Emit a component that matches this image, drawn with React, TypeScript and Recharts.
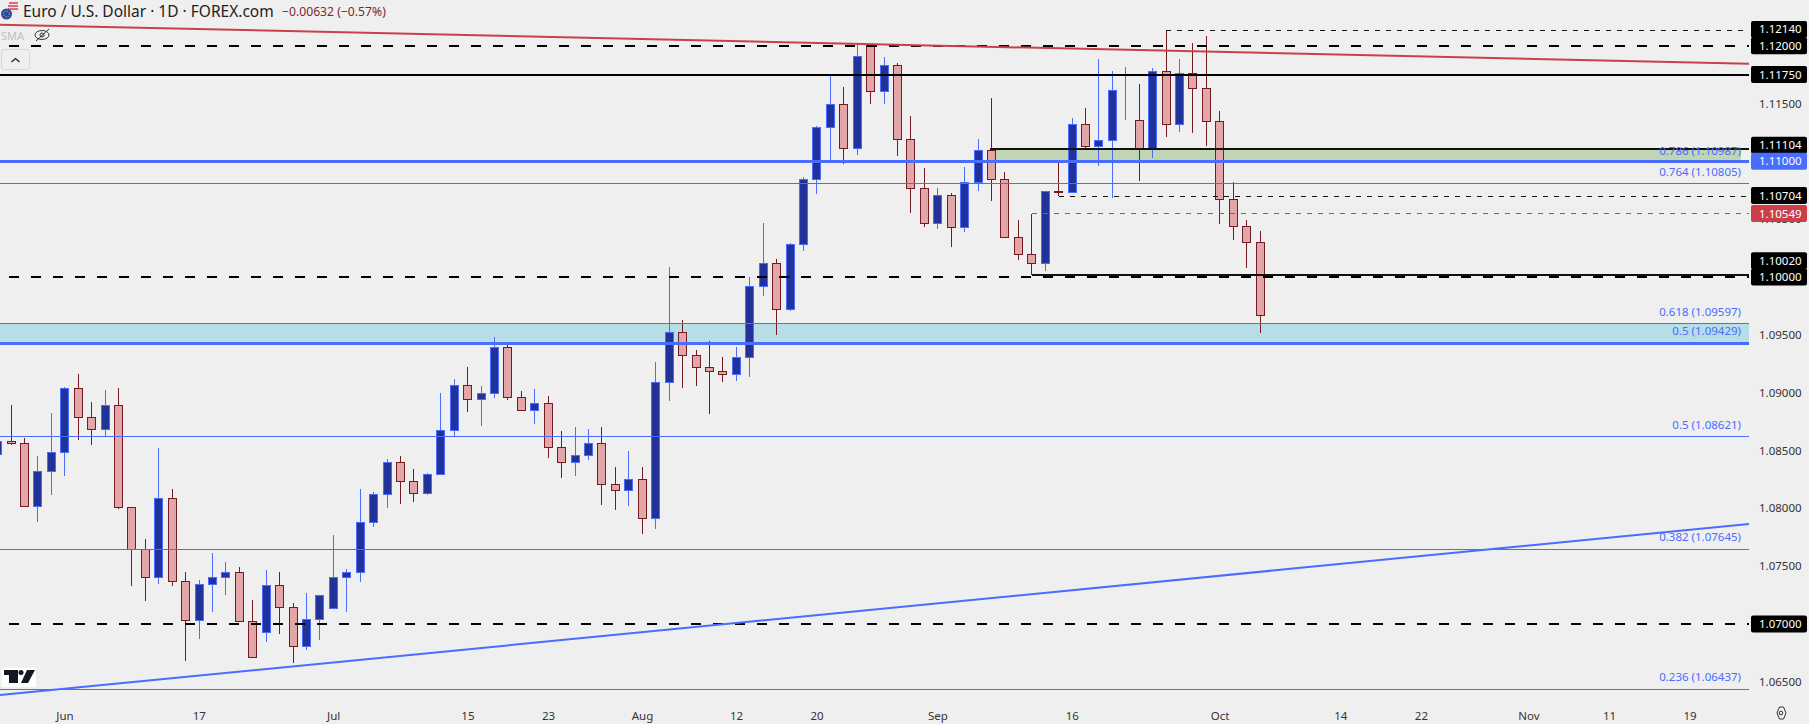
import React from "react";
import { ComposedChart, Bar, XAxis, YAxis, ReferenceLine, ReferenceArea } from "recharts";

// one entry per daily bar, oldest first (first bar is cut by the left edge)
const opens = [1.08467,1.08579,1.08562,1.08017,1.08320,1.08484,1.09038,1.08787,1.08683,1.08891,1.08009,1.07646,1.07404,1.08087,1.07369,1.07032,1.07343,1.07404,1.07447,1.07023,1.06928,1.07334,1.07144,1.06807,1.07040,1.07136,1.07404,1.07447,1.07879,1.08121,1.08398,1.08234,1.08130,1.08294,1.08675,1.09063,1.08942,1.08994,1.09392,1.08960,1.08847,1.08908,1.08527,1.08398,1.08458,1.08562,1.08207,1.08156,1.08251,1.07914,1.09089,1.09522,1.09323,1.09219,1.09185,1.09159,1.09306,1.09919,1.10118,1.09720,1.10282,1.10844,1.11294,1.11493,1.11112,1.12003,1.11605,1.11830,1.11190,1.10767,1.10464,1.10706,1.10429,1.10819,1.11095,1.10844,1.10343,1.10196,1.10118,1.10741,1.10732,1.11320,1.11130,1.11182,1.11623,1.11355,1.11104,1.11784,1.11320,1.11761,1.11631,1.11346,1.10672,1.10438,1.10300];
const highs = [1.08700,1.08894,1.08608,1.08450,1.08821,1.09046,1.09162,1.08920,1.09020,1.09038,1.08009,1.07732,1.08519,1.08164,1.07447,1.07378,1.07611,1.07533,1.07490,1.07205,1.07464,1.07447,1.07179,1.07265,1.07248,1.07767,1.07473,1.08164,1.08138,1.08424,1.08450,1.08337,1.08303,1.08994,1.09115,1.09219,1.09055,1.09478,1.09409,1.09012,1.09029,1.08968,1.08666,1.08700,1.08683,1.08700,1.08355,1.08493,1.08355,1.09262,1.10084,1.09625,1.09366,1.09444,1.09306,1.09392,1.09997,1.10464,1.10153,1.10291,1.10862,1.11303,1.11738,1.11640,1.12006,1.12015,1.11899,1.11847,1.11389,1.10940,1.10767,1.10723,1.10948,1.11190,1.11545,1.10905,1.10490,1.10542,1.10741,1.11009,1.11372,1.11458,1.11882,1.11778,1.11813,1.11666,1.11804,1.12133,1.11882,1.12020,1.12081,1.11432,1.10819,1.10490,1.10395];
const lows = [1.08400,1.08551,1.08009,1.07885,1.08115,1.08280,1.08594,1.08551,1.08623,1.07997,1.07329,1.07202,1.07349,1.07329,1.06683,1.06873,1.07104,1.07251,1.07020,1.06712,1.06847,1.06916,1.06666,1.06778,1.06865,1.07136,1.07104,1.07366,1.07842,1.08006,1.08040,1.08058,1.08118,1.08285,1.08623,1.08836,1.08715,1.08957,1.08940,1.08844,1.08732,1.08438,1.08265,1.08282,1.08421,1.08032,1.07989,1.08023,1.07781,1.07824,1.08931,1.09043,1.09061,1.08819,1.09095,1.09104,1.09138,1.09836,1.09499,1.09709,1.10228,1.10721,1.10991,1.10980,1.11058,1.11499,1.11499,1.11049,1.10556,1.10435,1.10418,1.10262,1.10392,1.10746,1.10660,1.10343,1.10150,1.10014,1.10055,1.10697,1.10732,1.11104,1.10963,1.10686,1.11360,1.10833,1.11032,1.11213,1.11257,1.11248,1.11136,1.10461,1.10323,1.10081,1.09519];
const closes = [1.08579,1.08562,1.08017,1.08320,1.08484,1.09038,1.08787,1.08683,1.08891,1.08009,1.07646,1.07404,1.08087,1.07369,1.07032,1.07343,1.07404,1.07447,1.07023,1.06712,1.07334,1.07144,1.06807,1.07040,1.07248,1.07404,1.07447,1.07879,1.08121,1.08398,1.08234,1.08130,1.08294,1.08675,1.09064,1.08942,1.08994,1.09392,1.08960,1.08847,1.08908,1.08527,1.08398,1.08458,1.08562,1.08207,1.08156,1.08251,1.07914,1.09089,1.09522,1.09323,1.09219,1.09185,1.09159,1.09306,1.09919,1.10118,1.09720,1.10282,1.10844,1.11294,1.11493,1.11112,1.11908,1.11605,1.11830,1.11190,1.10767,1.10464,1.10706,1.10429,1.10819,1.11095,1.10844,1.10343,1.10196,1.10118,1.10741,1.10738,1.11320,1.11130,1.11182,1.11614,1.11626,1.11104,1.11784,1.11320,1.11761,1.11631,1.11346,1.10672,1.10438,1.10300,1.09669];

// date axis: position in the bar list (future bars included) and its label
const dateTicks = [5,15,25,35,41,48,55,61,70,80,91,100,106,114,120,126];
const dateLabels = ["Jun","17","Jul","15","23","Aug","12","20","Sep","16","Oct","14","22","Nov","11","19"];

// price scale
const plainPrices = [1.115,1.105,1.095,1.09,1.085,1.08,1.075,1.065];
const blackPrices = [1.1214,1.12,1.1175,1.11104,1.10704,1.1002,1.1,1.07];
const bluePrices = [1.11];
const redPrices = [1.10549];

// drawn levels
const dashedLevels = [1.12,1.1,1.07];
const thinBlueLevels = [1.10805,1.09597,1.08621,1.07645,1.06437];
const thickBlueLevels = [1.11,1.09429];
const fibLabels = ["0.786 (1.10987)","0.764 (1.10805)","0.618 (1.09597)","0.5 (1.09429)","0.5 (1.08621)","0.382 (1.07645)","0.236 (1.06437)"];
const fibPrices = [1.10987,1.10805,1.09597,1.09429,1.08621,1.07645,1.06437];

const bars = opens.map((open, i) => ({ i, open, high: highs[i], low: lows[i], close: closes[i] }));

const X_DOMAIN = [0.159, 130.39];
const Y_DOMAIN = [1.06395, 1.12395];
const BLUE = "#4a6cff";
const FONT = "'Noto Sans', sans-serif";

function Candle(props: any) {
  const { x, y, width, height, payload } = props;
  const up = payload.close >= payload.open;
  const unit = height / (payload.high - payload.low);
  const cx = Math.floor(x + width / 2) + 0.5;
  const top = Math.round(y + (payload.high - Math.max(payload.open, payload.close)) * unit) + 0.5;
  const bot = Math.round(y + (payload.high - Math.min(payload.open, payload.close)) * unit) + 0.5;
  const edge = up ? BLUE : "#741a20";
  return (
    <g shapeRendering="crispEdges">
      <line x1={cx} x2={cx} y1={y} y2={y + height} stroke={edge} />
      <rect x={cx - 4} y={top} width={8} height={Math.max(bot - top, 0)} fill={up ? "#21339b" : "#e3a6a8"} stroke={edge} />
    </g>
  );
}

function PriceTick(props: any) {
  const { payload } = props;
  const v = payload.value;
  // the price scale pushes colliding labels up so both stay readable
  const y = props.y + (v === 1.1002 ? -14 : v === 1.11104 ? -4 : 0);
  const box = blackPrices.includes(v) ? "#000" : bluePrices.includes(v) ? BLUE : redPrices.includes(v) ? "#c9404a" : null;
  return (
    <g>
      {box && <rect x={1751} y={y - 8.5} width={56} height={17} rx={2} fill={box} />}
      <text x={1759} y={y + 4} fontSize={11.5} fontFamily={FONT} fill={box ? "#fff" : "#333"}>{v.toFixed(5)}</text>
    </g>
  );
}

function DateTick(props: any) {
  const { x, y, payload } = props;
  return (
    <text x={x} y={y + 20} textAnchor="middle" fontSize={11.5} fontFamily={FONT} fill="#333">
      {dateLabels[dateTicks.indexOf(payload.value)]}
    </text>
  );
}

function Overlay() {
  return (
    <svg width={1809} height={724} style={{ position: "absolute", left: 0, top: 0, pointerEvents: "none" }}>
      {/* pair flags */}
      <circle cx={13} cy={7} r={5.5} fill="#e8e8f0" />
      <path d="M9 3h9M8 6h10M8 9h10" stroke="#d9434e" strokeWidth={1.3} />
      <circle cx={6.5} cy={14} r={5.5} fill="#2a4a9b" />
      <circle cx={6.5} cy={14} r={3} fill="none" stroke="#e9c341" strokeDasharray="1 1.4" />
      <text x={23} y={17} fontSize={15.5} fontFamily={FONT} fill="#222">Euro / U.S. Dollar · 1D · FOREX.com</text>
      <text x={282} y={16} fontSize={12.2} fontFamily={FONT} fill="#7a2a2e">−0.00632 (−0.57%)</text>
      <text x={1} y={40} fontSize={11} fontFamily={FONT} fill="#bdbdbd">SMA</text>
      <g fill="none" stroke="#333" strokeWidth={1}>
        <ellipse cx={42} cy={35} rx={7} ry={4.5} />
        <circle cx={42} cy={35} r={2} />
        <path d="M36 41L49 29" />
      </g>
      <rect x={1.5} y={49.5} width={28} height={20} rx={3} fill="#efefef" stroke="#d6d6d6" />
      <path d="M11.5 62l4 -3.5l4 3.5" fill="none" stroke="#222" strokeWidth={1.3} />
      {/* logo */}
      <rect x={2} y={668} width={34} height={19} rx={2} fill="#fff" />
      <path d="M4 670h14v13h-9v-8h-5z" fill="#131722" />
      <circle cx={21} cy={672.5} r={2.5} fill="#131722" />
      <path d="M27 670h8l-7 13h-7z" fill="#131722" />
      {/* settings */}
      <path d="M1777 713l2.5-6h4l2.5 6l-2.5 6h-4z" fill="none" stroke="#333" />
      <circle cx={1781} cy={713} r={1.8} fill="none" stroke="#333" />
    </svg>
  );
}

export default function App() {
  return (
    <div style={{ position: "absolute", left: 0, top: 0, width: 1809, height: 724, background: "#efefef", overflow: "hidden" }}>
      <ComposedChart width={1809} height={724} data={bars} margin={{ top: 0, right: 0, bottom: 0, left: 0 }}>
        <XAxis
          dataKey="i"
          type="number"
          domain={X_DOMAIN}
          allowDataOverflow
          ticks={dateTicks}
          interval={0}
          axisLine={false}
          tickLine={false}
          height={30}
          tickMargin={0}
          tick={<DateTick />}
        />
        <YAxis
          orientation="right"
          type="number"
          domain={Y_DOMAIN}
          allowDataOverflow
          ticks={[...plainPrices, ...blackPrices, ...bluePrices, ...redPrices]}
          interval={0}
          axisLine={false}
          tickLine={false}
          width={60}
          tick={<PriceTick />}
        />

        <ReferenceArea y1={1.09429} y2={1.09597} fill="#b7dde6" fillOpacity={1} stroke="none" ifOverflow="visible" />

        {thinBlueLevels.map((v) => (
          <ReferenceLine key={v} y={v} stroke={BLUE} strokeWidth={1} shapeRendering="crispEdges" />
        ))}
        {thickBlueLevels.map((v) => (
          <ReferenceLine key={v} y={v} stroke={BLUE} strokeWidth={3} shapeRendering="crispEdges" />
        ))}
        <ReferenceArea x1={73.9} x2={129.8} y1={1.11} y2={1.11104} fill="#8fbc7a" fillOpacity={0.5} stroke="none" />
        <ReferenceLine y={1.1175} stroke="#000" strokeWidth={2} shapeRendering="crispEdges" />
        {dashedLevels.map((v) => (
          <ReferenceLine key={v} y={v} stroke="#000" strokeWidth={2} strokeDasharray="10 12" strokeDashoffset={8} shapeRendering="crispEdges" />
        ))}
        <ReferenceLine segment={[{ x: 73.9, y: 1.11104 }, { x: X_DOMAIN[1], y: 1.11104 }]} stroke="#111" strokeWidth={2} shapeRendering="crispEdges" />
        <ReferenceLine segment={[{ x: 77, y: 1.1002 }, { x: X_DOMAIN[1], y: 1.1002 }]} stroke="#111" strokeWidth={2} shapeRendering="crispEdges" />
        <ReferenceLine segment={[{ x: 87, y: 1.12133 }, { x: X_DOMAIN[1], y: 1.12133 }]} stroke="#111" strokeDasharray="5 6" shapeRendering="crispEdges" />
        <ReferenceLine segment={[{ x: 79, y: 1.10698 }, { x: X_DOMAIN[1], y: 1.10698 }]} stroke="#111" strokeDasharray="5 6" shapeRendering="crispEdges" />
        <ReferenceLine segment={[{ x: 77, y: 1.10545 }, { x: X_DOMAIN[1], y: 1.10545 }]} stroke="#c9404a" strokeDasharray="5 6" shapeRendering="crispEdges" />

        {/* trendlines */}
        <ReferenceLine segment={[{ x: X_DOMAIN[0], y: 1.12182 }, { x: X_DOMAIN[1], y: 1.11844 }]} stroke="#c9404a" strokeWidth={2} ifOverflow="visible" />
        <ReferenceLine segment={[{ x: X_DOMAIN[0], y: 1.06386 }, { x: X_DOMAIN[1], y: 1.07865 }]} stroke={BLUE} strokeWidth={2} ifOverflow="visible" />

        <Bar dataKey={(d: any) => [d.low, d.high]} barSize={9} shape={<Candle />} isAnimationActive={false} />

        {fibPrices.map((v, n) => (
          <ReferenceLine
            key={n}
            y={v}
            stroke="none"
            label={{ value: fibLabels[n], position: "insideBottomRight", offset: 8, fill: BLUE, fontSize: 11.5, fontFamily: FONT }}
          />
        ))}
      </ComposedChart>
      <Overlay />
    </div>
  );
}
